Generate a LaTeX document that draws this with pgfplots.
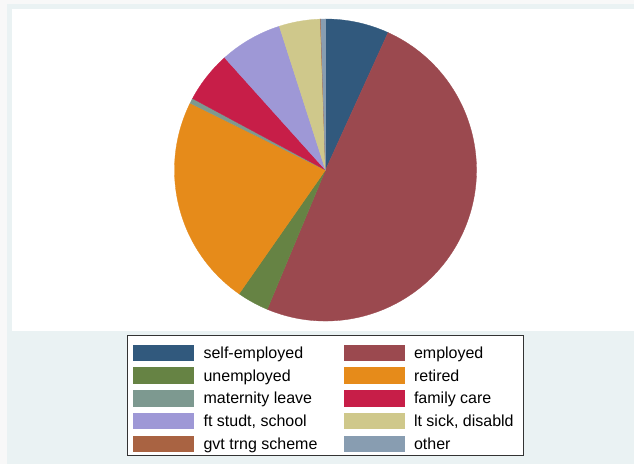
\documentclass[border=0pt]{standalone}
\usepackage{pgfplots}
\usepackage{pgfplotstable}
\pgfplotsset{compat=1.18}
\usepackage{fontspec}
\setmainfont{Liberation Sans}

\definecolor{bgout}{RGB}{248,248,248}
\definecolor{bggray}{RGB}{234,242,243}
\definecolor{c1}{RGB}{49,89,125}
\definecolor{c2}{RGB}{155,73,79}
\definecolor{c3}{RGB}{102,131,68}
\definecolor{c4}{RGB}{230,139,26}
\definecolor{c5}{RGB}{125,153,144}
\definecolor{c6}{RGB}{199,30,72}
\definecolor{c7}{RGB}{158,152,214}
\definecolor{c8}{RGB}{207,200,139}
\definecolor{c9}{RGB}{169,99,66}
\definecolor{c10}{RGB}{136,157,177}

\pgfplotstableread[col sep=comma]{
status,pct,col
self-employed,6.8,c1
employed,49.5,c2
unemployed,3.4,c3
retired,22.6,c4
maternity leave,0.55,c5
family care,5.5,c6
{ft studt, school},6.7,c7
{lt sick, disabld},4.4,c8
gvt trng scheme,0.05,c9
other,0.5,c10
}\jbstat

\begin{document}
\begin{tikzpicture}[x=1pt,y=1pt]
\useasboundingbox (0,0) rectangle (634,464);
\fill[bgout] (0,0) rectangle (634,464);
\fill[bggray] (7,0) rectangle (634,460);
\fill[white] (12,133) rectangle (634,455);
\draw[black!80, line width=0.8pt, fill=white] (127,129) rectangle (523,9);
\pgfplotstablegetrowsof{\jbstat}\pgfmathtruncatemacro\lastrow{\pgfplotsretval-1}
\begin{axis}[
  at={(325.5pt,294pt)}, anchor=center,
  x=151pt, y=151pt,
  xmin=-1, xmax=1, ymin=-1, ymax=1,
  hide axis, clip=false,
  legend columns=2,
  legend image code/.code={%
    \draw[#1, line width=0.4pt] (0pt,-2pt) rectangle (60pt,13.5pt);
    \path (70pt,17pt);
  },
  legend style={
    at={(-0.13742,-0.06623)}, anchor=north west,
    draw=none, fill=none, inner sep=0pt,
    row sep=3.3pt, column sep=0pt,
    cells={anchor=base west},
    nodes={inner sep=0pt, text height=12pt, text depth=2pt, font=\fontsize{16}{19}\selectfont},
    /tikz/every even column/.append style={column sep=26.2pt},
  },
]
\pgfmathsetmacro\cum{90}
\pgfplotsforeachungrouped \i in {0,...,\lastrow}{%
  \pgfplotstablegetelem{\i}{pct}\of\jbstat \let\pv\pgfplotsretval
  \pgfplotstablegetelem{\i}{col}\of\jbstat \let\pc\pgfplotsretval
  \pgfmathsetmacro\sA{\cum}%
  \pgfmathsetmacro\sB{\cum-3.6*\pv}%
  \edef\temp{\noexpand\fill[fill=\pc, draw=\pc, line width=0.3pt] (axis cs:0,0) -- (axis cs:{cos(\sA)},{sin(\sA)}) arc[start angle=\sA, end angle=\sB, radius=151pt] -- cycle;}%
  \temp
  \global\let\cum\sB
}
\addlegendimage{fill=c1, draw=c1}\addlegendentry{self-employed}
\addlegendimage{fill=c2, draw=c2}\addlegendentry{employed}
\addlegendimage{fill=c3, draw=c3}\addlegendentry{unemployed}
\addlegendimage{fill=c4, draw=c4}\addlegendentry{retired}
\addlegendimage{fill=c5, draw=c5}\addlegendentry{maternity leave}
\addlegendimage{fill=c6, draw=c6}\addlegendentry{family care}
\addlegendimage{fill=c7, draw=c7}\addlegendentry{ft studt, school}
\addlegendimage{fill=c8, draw=c8}\addlegendentry{lt sick, disabld}
\addlegendimage{fill=c9, draw=c9}\addlegendentry{gvt trng scheme}
\addlegendimage{fill=c10, draw=c10}\addlegendentry{other}
\end{axis}
\end{tikzpicture}
\end{document}
